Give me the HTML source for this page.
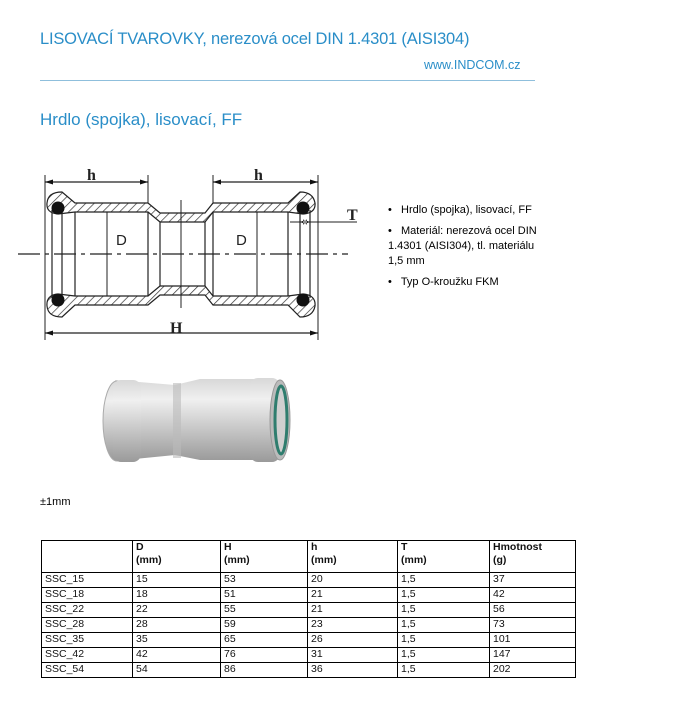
<!DOCTYPE html>
<html><head><meta charset="utf-8"><style>
body{margin:0;width:684px;height:711px;background:#fff;position:relative;font-family:"Liberation Sans",sans-serif;overflow:hidden}
.a{position:absolute;white-space:nowrap}
table{position:absolute;left:41px;top:540px;border-collapse:collapse;font-size:10.5px;color:#111}
td{border:1px solid #000;padding:0 0 0 3px;height:14px;line-height:13px;vertical-align:top}
</style></head><body>
<div class="a" style="left:40px;top:30px;font-size:16.5px;letter-spacing:-0.2px;color:#2a8ec8">LISOVACÍ TVAROVKY, nerezová ocel DIN 1.4301 (AISI304)</div>
<div class="a" style="left:424px;top:58px;font-size:12.5px;color:#2a8ec8">www.INDCOM.cz</div>
<div class="a" style="left:40px;top:80px;width:495px;height:1px;background:#8fbfdc"></div>
<div class="a" style="left:40px;top:110px;font-size:17px;color:#2a8ec8">Hrdlo (spojka), lisovací, FF</div>

<svg class="a" style="left:0;top:150px" width="370" height="200" viewBox="0 150 370 200">
<defs><pattern id="hp" width="6" height="6" patternUnits="userSpaceOnUse" patternTransform="rotate(45)"><rect width="6" height="6" fill="#fff"/><line x1="0" y1="0" x2="0" y2="6" stroke="#333" stroke-width="1.4"/></pattern></defs>
<g stroke="#222" stroke-width="1.2" fill="url(#hp)">
<path d="M62,192 Q48,192 47,203 Q46,213 58,214 L75,212 L148,212 L160,222 L205,222 L213,212 L288,212 L303,214 Q316,213 315,203 Q313,192 300,192 L288,203 L213,203 L205,213 L160,213 L148,203 L75,203 Z"/>
<path d="M62,317 Q48,317 47,306 Q46,295 58,294 L75,296 L148,296 L160,286 L205,286 L213,296 L288,296 L303,294 Q316,295 315,306 Q313,317 300,317 L288,305 L213,305 L205,295 L160,295 L148,305 L75,305 Z"/>
</g>
<g stroke="#222" stroke-width="1.2" fill="none">
<line x1="52" y1="210" x2="52" y2="298"/><line x1="62" y1="212" x2="62" y2="296"/>
<line x1="75" y1="212" x2="75" y2="296"/><line x1="148" y1="212" x2="148" y2="296"/>
<line x1="160" y1="222" x2="160" y2="286"/><line x1="205" y1="222" x2="205" y2="286"/>
<line x1="213" y1="212" x2="213" y2="296"/><line x1="288" y1="212" x2="288" y2="296"/>
<line x1="300" y1="212" x2="300" y2="296"/><line x1="310" y1="210" x2="310" y2="298"/>
<line x1="45" y1="175" x2="45" y2="340" stroke-width="1"/><line x1="318" y1="175" x2="318" y2="340" stroke-width="1"/>
<line x1="148" y1="175" x2="148" y2="203" stroke-width="1"/><line x1="213" y1="175" x2="213" y2="203" stroke-width="1"/>
<line x1="45" y1="182" x2="148" y2="182"/><line x1="213" y1="182" x2="318" y2="182"/>
<line x1="45" y1="333" x2="318" y2="333"/>
<line x1="107" y1="212" x2="107" y2="296" stroke-width="1"/><line x1="257" y1="212" x2="257" y2="296" stroke-width="1"/>
<line x1="181" y1="200" x2="181" y2="308" stroke-width="1"/>
<line x1="18" y1="254" x2="348" y2="254" stroke-dasharray="22,5,4,5" stroke-width="1.2"/>
<line x1="290" y1="222" x2="357" y2="222" stroke-width="1"/>
</g>
<g fill="#111">
<circle cx="58" cy="208" r="6.5"/><circle cx="303" cy="208" r="6.5"/><circle cx="58" cy="300" r="6.5"/><circle cx="303" cy="300" r="6.5"/>
<path d="M45,182 l8,-2.5 v5z M148,182 l-8,-2.5 v5z M213,182 l8,-2.5 v5z M318,182 l-8,-2.5 v5z M45,333 l8,-2.5 v5z M318,333 l-8,-2.5 v5z M300,222 l7,-2.5 v5z M310,222 l-7,-2.5 v5z"/>
</g>
<g font-family="Liberation Serif,serif" font-weight="bold" font-size="16" fill="#222">
<text x="87" y="180">h</text><text x="254" y="180">h</text><text x="170" y="333">H</text><text x="347" y="220">T</text>
</g>
<text x="116" y="245" font-size="15" fill="#222">D</text><text x="236" y="245" font-size="15" fill="#222">D</text>
</svg>

<svg class="a" style="left:95px;top:365px" width="200" height="105">
<defs>
<linearGradient id="g" x1="0" y1="0" x2="0" y2="1"><stop offset="0" stop-color="#d8d8d8"/><stop offset=".25" stop-color="#f0f0f0"/><stop offset=".6" stop-color="#c8c8c8"/><stop offset="1" stop-color="#9a9a9a"/></linearGradient>
</defs>
<path d="M20,15 L80,20 L105,14 L175,14 L175,95 L105,95 L80,90 L20,96 Z" fill="url(#g)"/>
<ellipse cx="22" cy="56" rx="14" ry="40" fill="url(#g)" stroke="#aaa"/>
<rect x="18" y="15" width="28" height="82" rx="8" fill="url(#g)"/>
<rect x="155" y="13" width="30" height="84" rx="8" fill="url(#g)"/>
<ellipse cx="185" cy="55" rx="10" ry="40" fill="#bbb" stroke="#999"/>
<ellipse cx="186" cy="55" rx="6" ry="34" fill="#d0d0d0" stroke="#2f7d6e" stroke-width="3"/>
<rect x="78" y="18" width="8" height="75" fill="#bbb" opacity=".6"/>
</svg>

<div class="a" style="left:40px;top:496px;font-size:11px">±1mm</div>

<div class="a" style="left:388px;top:203px;font-size:11px;line-height:15px;white-space:normal;width:152px">
<div>•&nbsp;&nbsp; Hrdlo (spojka), lisovací, FF</div>
<div style="margin-top:6px">•&nbsp;&nbsp; Materiál: nerezová ocel DIN 1.4301 (AISI304), tl. materiálu 1,5 mm</div>
<div style="margin-top:6px">•&nbsp;&nbsp; Typ O-kroužku FKM</div>
</div>

<table>
<tr style="font-weight:bold"><td style="width:87px;height:31px"></td><td style="width:84px">D<br>(mm)</td><td style="width:83px">H<br>(mm)</td><td style="width:86px">h<br>(mm)</td><td style="width:88px">T<br>(mm)</td><td style="width:82px">Hmotnost<br>(g)</td></tr>
<tr><td>SSC_15</td><td>15</td><td>53</td><td>20</td><td>1,5</td><td>37</td></tr>
<tr><td>SSC_18</td><td>18</td><td>51</td><td>21</td><td>1,5</td><td>42</td></tr>
<tr><td>SSC_22</td><td>22</td><td>55</td><td>21</td><td>1,5</td><td>56</td></tr>
<tr><td>SSC_28</td><td>28</td><td>59</td><td>23</td><td>1,5</td><td>73</td></tr>
<tr><td>SSC_35</td><td>35</td><td>65</td><td>26</td><td>1,5</td><td>101</td></tr>
<tr><td>SSC_42</td><td>42</td><td>76</td><td>31</td><td>1,5</td><td>147</td></tr>
<tr><td>SSC_54</td><td>54</td><td>86</td><td>36</td><td>1,5</td><td>202</td></tr>
</table>
</body></html>
